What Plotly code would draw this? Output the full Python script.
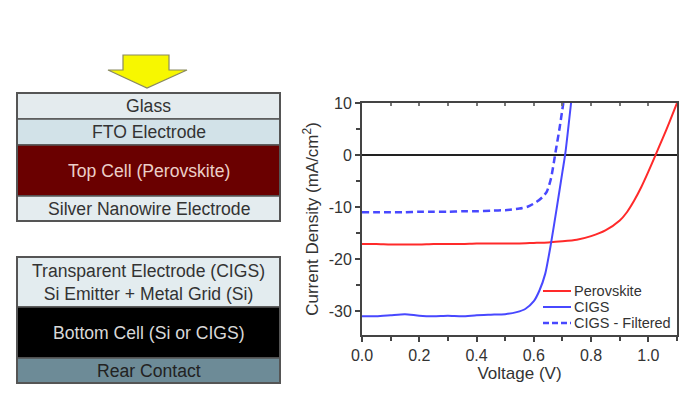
import plotly.graph_objects as go

# ---------------- data ----------------
perov_v = [0.0, 0.05, 0.1, 0.15, 0.2, 0.25, 0.3, 0.35, 0.4, 0.45, 0.5, 0.55, 0.6, 0.65,
           0.7, 0.75, 0.8, 0.85, 0.9, 0.925, 0.95, 0.975, 1.0, 1.025, 1.05, 1.075, 1.1]
perov_j = [-17.1, -17.1, -17.2, -17.2, -17.2, -17.1, -17.1, -17.1, -17.0, -17.0, -17.0, -17.0,
           -16.9, -16.8, -16.6, -16.3, -15.6, -14.5, -12.6, -11.0, -8.8, -6.2, -3.2, 0.0, 3.2, 6.5, 10.0]

cigs_v = [0.0, 0.05, 0.1, 0.15, 0.2, 0.25, 0.3, 0.35, 0.4, 0.45, 0.5, 0.54, 0.57, 0.6,
          0.62, 0.64, 0.66, 0.68, 0.70, 0.71, 0.73]
cigs_j = [-31.0, -31.0, -30.8, -30.6, -30.9, -31.0, -30.9, -31.0, -30.8, -30.7, -30.6, -30.2,
          -29.6, -28.1, -26.0, -22.8, -17.0, -10.2, -3.2, 0.3, 10.0]

filt_v = [0.0, 0.05, 0.1, 0.15, 0.2, 0.25, 0.3, 0.35, 0.4, 0.45, 0.5, 0.55, 0.58, 0.61,
          0.63, 0.645, 0.66, 0.675, 0.69, 0.703]
filt_j = [-11.0, -11.0, -11.0, -11.0, -10.9, -10.9, -10.9, -10.8, -10.8, -10.7, -10.6, -10.3,
          -9.9, -9.0, -8.1, -7.1, -4.5, 0.3, 5.2, 10.0]

series_names = ["Perovskite", "CIGS", "CIGS - Filtered"]

x_ticks = [0.0, 0.2, 0.4, 0.6, 0.8, 1.0]
x_tick_labels = ["0.0", "0.2", "0.4", "0.6", "0.8", "1.0"]
y_ticks = [10, 0, -10, -20, -30]
y_tick_labels = ["10", "0", "-10", "-20", "-30"]

# schematic layer stacks (labels only)
top_stack = ["Glass", "FTO Electrode", "Top Cell (Perovskite)", "Silver Nanowire Electrode"]
bottom_stack = ["Transparent Electrode (CIGS)<br>Si Emitter + Metal Grid (Si)",
                "Bottom Cell (Si or CIGS)", "Rear Contact"]

# ---------------- figure ----------------
PAGE_W, PAGE_H = 700, 413
OFF = 8                      # browser default body margin
W, H = PAGE_W - OFF, PAGE_H - OFF
FONT = "Liberation Sans, Arial, Helvetica, sans-serif"
TXT = "#333333"

red = "#ff2a2a"
blue = "#4848ff"
styles = [dict(color=red, width=2),
          dict(color=blue, width=2),
          dict(color=blue, width=2.5, dash="7px,4px")]

fig = go.Figure()
for xs, ys, nm, st in zip([perov_v, cigs_v, filt_v], [perov_j, cigs_j, filt_j], series_names, styles):
    fig.add_trace(go.Scatter(x=xs, y=ys, mode="lines", name=nm, showlegend=False,
                             line=dict(shape="spline", smoothing=0.6, **st)))

# plot-area box in page pixels
px_l, px_r, px_t, px_b = 362, 677, 103, 335
axcol = "#444444"

def fx(p):  # page px -> paper x
    return (p - OFF) / W

def fy(p):  # page px -> paper y
    return 1 - (p - OFF) / H

fig.update_layout(
    width=W, height=H,
    margin=dict(l=0, r=0, t=0, b=0, pad=0, autoexpand=False),
    paper_bgcolor="white", plot_bgcolor="rgba(0,0,0,0)",
    font=dict(family=FONT, color=TXT, size=16),
    showlegend=False,
    xaxis=dict(domain=[fx(px_l), fx(px_r)], range=[0, 1.1],
               tickvals=x_ticks, ticktext=x_tick_labels,
               ticks="outside", ticklen=5, tickwidth=1.5, tickcolor=axcol,
               minor=dict(dtick=0.1, ticks="outside", ticklen=4, tickcolor=axcol, tickwidth=1.5),
               showline=True, linecolor=axcol, linewidth=2, mirror=True,
               showgrid=False, zeroline=False, automargin=False,
               tickfont=dict(size=16, color=TXT),
               title=dict(text="Voltage (V)", font=dict(size=17, color=TXT), standoff=0)),
    yaxis=dict(domain=[fy(px_b), fy(px_t)], range=[-34.6, 10],
               tickvals=y_ticks, ticktext=y_tick_labels,
               ticks="outside", ticklen=5, tickwidth=1.5, tickcolor=axcol,
               minor=dict(dtick=5, ticks="outside", ticklen=4, tickcolor=axcol, tickwidth=1.5),
               showline=True, linecolor=axcol, linewidth=2, mirror=True,
               showgrid=False, zeroline=True, zerolinecolor="#222222", zerolinewidth=1.5,
               automargin=False,
               tickfont=dict(size=16, color=TXT),
               title=dict(text="Current Density (mA/cm<sup>2</sup>)", font=dict(size=17, color=TXT),
                          standoff=6)),
    # small inward ticks along the top frame
    xaxis3=dict(overlaying="x", side="top", range=[0, 1.1], dtick=0.1, tick0=0,
                ticks="inside", ticklen=3, tickwidth=1.5, tickcolor="#777777",
                showticklabels=False, showgrid=False, zeroline=False, showline=False,
                automargin=False, fixedrange=True),
    # overlay axes in page-pixel units for the schematic and legend
    xaxis2=dict(domain=[0, 1], range=[OFF, PAGE_W], visible=False, fixedrange=True, automargin=False),
    yaxis2=dict(domain=[0, 1], range=[PAGE_H, OFF], visible=False, fixedrange=True, automargin=False),
)
fig.add_trace(go.Scatter(x=[OFF], y=[OFF], xaxis="x2", yaxis="y2", mode="markers",
                         marker=dict(opacity=0), showlegend=False, hoverinfo="skip"))
fig.add_trace(go.Scatter(x=[0.5], y=[0], xaxis="x3", yaxis="y", mode="markers",
                         marker=dict(opacity=0), showlegend=False, hoverinfo="skip"))

shapes = []
annos = []

# ---------------- legend (manual, tight spacing as in the original) ----------------
leg_rows = [291, 307, 323]
for nm, st, yy in zip(series_names, styles, leg_rows):
    ln = dict(color=st["color"], width=st["width"])
    if "dash" in st:
        ln["dash"] = "6px,3px"
    shapes.append(dict(type="line", xref="x2", yref="y2", x0=543, x1=571, y0=yy, y1=yy, line=ln))
    annos.append(dict(xref="x2", yref="y2", x=573, y=yy, text=nm, showarrow=False,
                      xanchor="left", yanchor="middle", borderpad=0,
                      font=dict(family=FONT, size=14.5, color=TXT)))

# ---------------- schematic ----------------
bx0, bx1 = 17, 280
edge = "#555555"

shapes.append(dict(type="path", xref="x2", yref="y2",
                   path="M 123 55 L 169 55 L 169 70 L 187 70 L 147 88 L 108 70 L 123 70 Z",
                   fillcolor="#f7f700", line=dict(color="#8a8a60", width=1.2)))

top_bounds = [93, 119, 145, 196, 221]
top_fills = ["#e4ebee", "#d2e2e8", "#6a0000", "#e4ecef"]
top_text = [TXT, TXT, "#eccfc8", TXT]
bot_bounds = [257, 307, 358, 383]
bot_fills = ["#e3ecef", "#000000", "#6d8b97"]
bot_text = [TXT, "#d8d8d8", "#222222"]

def stack(labels, bounds, fills, tcols):
    for i, lab in enumerate(labels):
        y0, y1 = bounds[i], bounds[i + 1]
        shapes.append(dict(type="rect", xref="x2", yref="y2", x0=bx0, x1=bx1, y0=y0, y1=y1,
                           fillcolor=fills[i], line=dict(color=edge, width=1.5), layer="above"))
        annos.append(dict(xref="x2", yref="y2", x=(bx0 + bx1) / 2, y=(y0 + y1) / 2,
                          text=lab, showarrow=False, xanchor="center", yanchor="middle",
                          font=dict(family=FONT, size=17.6, color=tcols[i])))
    shapes.append(dict(type="rect", xref="x2", yref="y2", x0=bx0, x1=bx1, y0=bounds[0], y1=bounds[-1],
                       fillcolor="rgba(0,0,0,0)", line=dict(color=edge, width=2), layer="above"))

stack(top_stack, top_bounds, top_fills, top_text)
stack(bottom_stack, bot_bounds, bot_fills, bot_text)

fig.update_layout(shapes=shapes, annotations=annos)

fig.write_html("out.html")
